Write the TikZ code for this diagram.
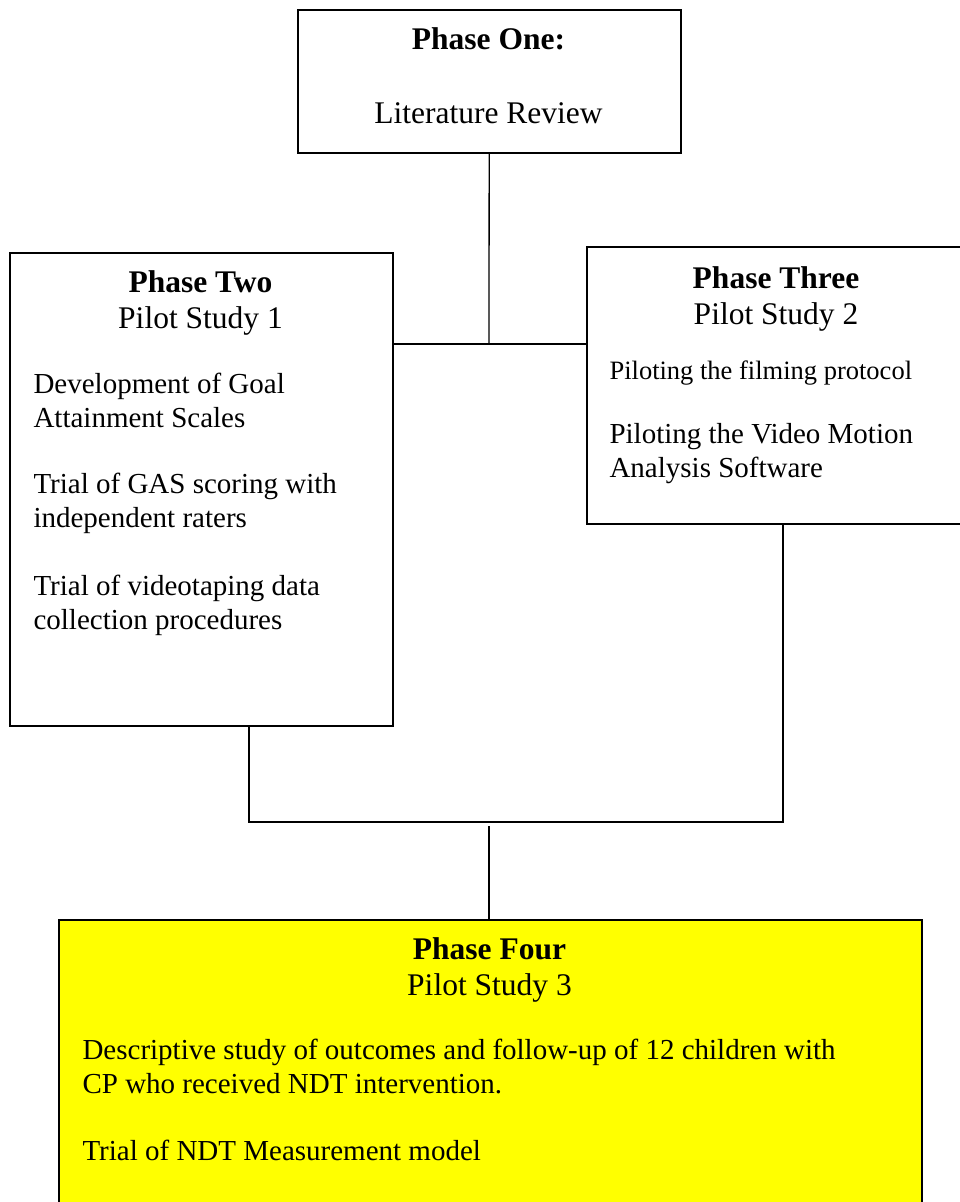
\documentclass[tikz,border=0pt]{standalone}
\usepackage{fontspec}
\setmainfont{Liberation Serif}
\usetikzlibrary{positioning}
\definecolor{phaseyellow}{RGB}{255,255,0}
\tikzstyle{phase} = [rectangle, 
			draw, 
			line width = 1.5pt, 
			anchor = north west, 
			inner sep = 0pt]
\tikzstyle{head} = [align = center, 
			anchor = base, 
			font = \fontsize{31.5}{36}\selectfont]
\tikzstyle{body} = [align = left, 
			anchor = base west, 
			font = \fontsize{29}{33.5}\selectfont]
\tikzstyle{link} = [line width = 1.3pt]

\begin{document}
\begin{tikzpicture}[x = 1pt, y = -1pt]
	\useasboundingbox (0,0) rectangle (960,1202);
	\clip (0,0) rectangle (960,1202);
	\node [phase, minimum width = 383pt, minimum height = 143pt] (one) at (297,9) {};
	\node [phase, minimum width = 383pt, minimum height = 473pt] (two) at (9,252) {};
	\node [phase, minimum width = 380pt, minimum height = 277pt] (three) at (586,246) {};
	\node [phase, fill = phaseyellow, minimum width = 863pt, minimum height = 330pt] (four) at (58,919) {};
	% multi-line texts sit on the baseline of their last line
	\node [head] (onehead) at (488.5,49) {\textbf{Phase One:}};
	\node [head] (onetext) at (488.5,123) {Literature Review};
	\node [head] (twohead) at (200.5,328) {\textbf{Phase Two}\\Pilot Study 1};
	\node [body] (twogoal) at (30,427) {Development of Goal\\Attainment Scales};
	\node [body] (twogas) at (30,527) {Trial of GAS scoring with\\independent raters};
	\node [body] (twovideo) at (30,629) {Trial of videotaping data\\collection procedures};
	\node [head] (threehead) at (776,324) {\textbf{Phase Three}\\Pilot Study 2};
	\node [body, font = \fontsize{26.5}{30}\selectfont] (threefilm) at (606,379) {Piloting the filming protocol};
	\node [body] (threesoft) at (606,477) {Piloting the Video Motion\\Analysis Software};
	\node [head] (fourhead) at (489.5,995) {\textbf{Phase Four}\\Pilot Study 3};
	\node [body] (fourstudy) at (79,1093) {Descriptive study of outcomes and follow-up of 12 children with\\CP who received NDT intervention.};
	\node [body] (fourmodel) at (79,1160) {Trial of NDT Measurement model};
	\coordinate (join) at (489,344);
	\coordinate (leftfoot) at (249,822);
	\coordinate (rightfoot) at (783,822);
	\coordinate (lead) at (489,826);
	\draw [link] (one) -- (join);
	\draw [link] (two.east |- join) -- (three.west |- join);
	\draw [link] (two.south -| leftfoot) -- (leftfoot) -- (rightfoot) -- (three.south -| rightfoot);
	\draw [link] (lead) -- (lead |- four.north);
\end{tikzpicture}
\end{document}
